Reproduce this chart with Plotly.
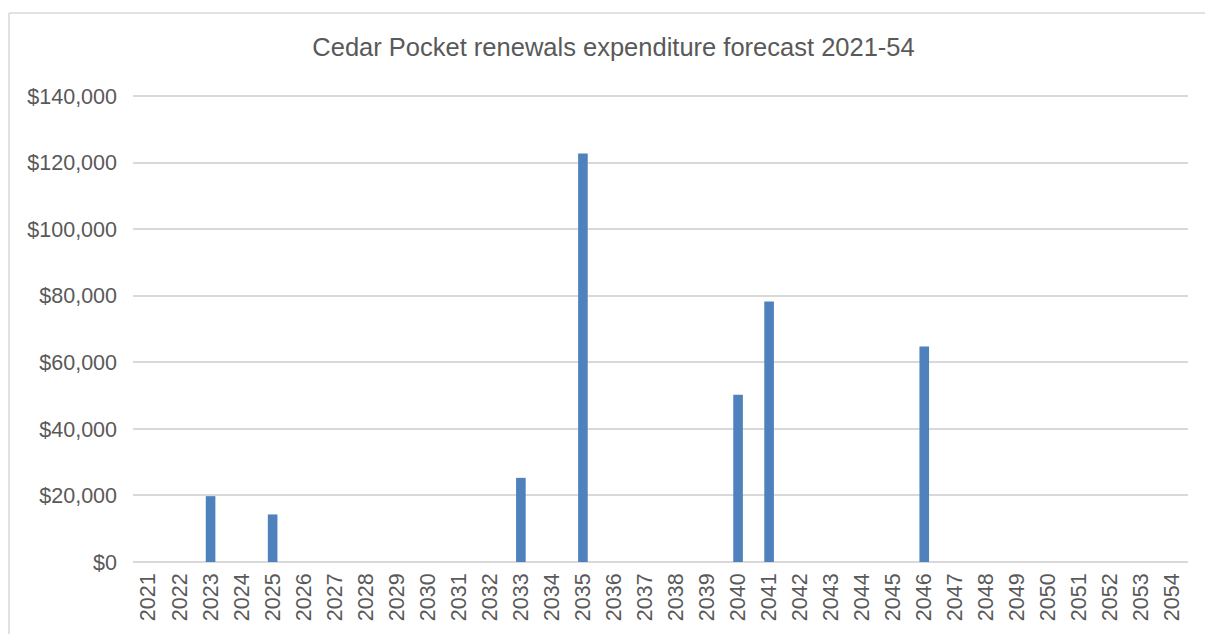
import plotly.graph_objects as go

years = [str(y) for y in range(2021, 2055)]
spend_by_year = {
    "2023": 19800,
    "2025": 14300,
    "2033": 25300,
    "2035": 122800,
    "2040": 50300,
    "2041": 78300,
    "2046": 64800,
}
values = [spend_by_year.get(y, 0) for y in years]
y_ticks = [0, 20000, 40000, 60000, 80000, 100000, 120000, 140000]
y_tick_labels = ["$0", "$20,000", "$40,000", "$60,000", "$80,000", "$100,000", "$120,000", "$140,000"]
title_text = "Cedar Pocket renewals expenditure forecast 2021-54"

W, H = 1205, 634
L, R, T, B = 133, 17, 95, 72
pw, ph = W - L - R, H - T - B

def px_to_paper_x(px):
    return (px - L) / pw

def px_to_paper_y(py):
    return (H - B - py) / ph

fig = go.Figure(
    go.Bar(
        x=years,
        y=values,
        marker=dict(color="#4F81BD", line=dict(width=0)),
        width=0.31,
    )
)

grey = "#595959"
fig.update_layout(
    width=W,
    height=H,
    margin=dict(l=L, r=R, t=T, b=B),
    paper_bgcolor="white",
    plot_bgcolor="white",
    showlegend=False,
    font=dict(family="Liberation Sans, Arial, sans-serif", color=grey),
    title=dict(
        text=title_text,
        x=(313 + 914) / 2 / W,
        xanchor="center",
        y=1 - 47 / H,
        yanchor="middle",
        font=dict(size=25.5, color=grey),
    ),
    xaxis=dict(
        type="category",
        tickangle=-90,
        tickfont=dict(size=21.5, color=grey),
        showgrid=False,
        showline=False,
        ticks="",
        ticklabelstandoff=6,
    ),
    yaxis=dict(
        range=[0, y_ticks[-1] * 1.003],
        tickvals=y_ticks,
        ticktext=y_tick_labels,
        tickfont=dict(size=21.5, color=grey),
        showgrid=True,
        gridcolor="#D9D9D9",
        gridwidth=1.5,
        zeroline=True,
        zerolinecolor="#D9D9D9",
        zerolinewidth=1.5,
        showline=False,
        ticks="",
        ticklabelstandoff=15,
    ),
    shapes=[
        dict(type="line", xref="paper", yref="paper",
             x0=px_to_paper_x(9), x1=px_to_paper_x(1210),
             y0=px_to_paper_y(13), y1=px_to_paper_y(13),
             line=dict(color="#D9D9D9", width=1.5)),
        dict(type="line", xref="paper", yref="paper",
             x0=px_to_paper_x(9), x1=px_to_paper_x(9),
             y0=px_to_paper_y(13), y1=px_to_paper_y(640),
             line=dict(color="#D9D9D9", width=1.5)),
    ],
)

fig.write_html(
    "out.html",
    config={"displayModeBar": False},
    post_script="document.body.style.margin='0';document.body.style.overflow='hidden';",
)
